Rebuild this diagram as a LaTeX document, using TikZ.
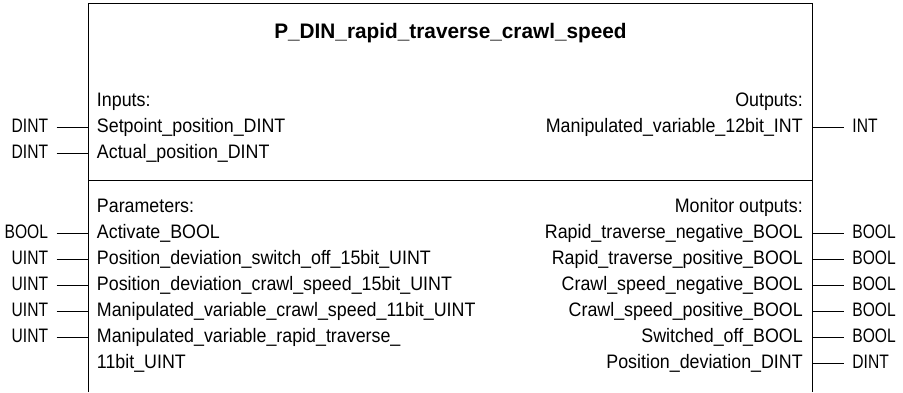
\documentclass[tikz,border=0pt]{standalone}
\usepackage{fontspec}
\setmainfont{Liberation Sans}[FakeStretch=0.915]
\newfontfamily\titlefont{Liberation Sans}[FakeStretch=0.99]
\newfontfamily\typefont{Liberation Sans}[FakeStretch=0.8]
\usetikzlibrary{positioning}

\begin{document}
\begin{tikzpicture}[
                  x = 1pt,
                  y = -1pt,
         line width = 0.9pt,
  every node/.style = {inner ysep=0pt, text height=15pt, text depth=4pt,
                       font=\fontsize{19.5}{22}\selectfont},
      inport/.style = {anchor=west, inner xsep=8.5pt},
     outport/.style = {anchor=east, inner xsep=9.5pt},
      intype/.style = {anchor=east, inner xsep=8pt, font=\typefont\fontsize{19.5}{22}\selectfont},
     outtype/.style = {anchor=west, inner xsep=8pt, font=\typefont\fontsize{19.5}{22}\selectfont},
       title/.style = {anchor=base, inner sep=0pt, text height={}, text depth={},
                       font=\titlefont\bfseries\fontsize{21}{24}\selectfont},
                   ]
\useasboundingbox (0,0) rectangle (903,392);
% box, open at the bottom
\coordinate (nw) at (88,3.5);
\coordinate (ne) at (812.7,3.5);
\coordinate (sw) at (88,392);
\coordinate (se) at (812.7,392);
\coordinate (dw) at (88,180);
\coordinate (de) at (812.7,180);
\draw (sw) -- (nw) -- (ne) -- (se);
\draw (dw) -- (de);

\node[title] (name) at (450.5,38.3) {P\_DIN\_rapid\_traverse\_crawl\_speed};

% inputs / outputs
\node[inport]  (inhead)  at (88,101) {Inputs:};
\node[inport]  (in1)     at (88,127) {Setpoint\_position\_DINT};
\node[inport]  (in2)     at (88,153) {Actual\_position\_DINT};
\node[outport] (outhead) at (812.7,101) {Outputs:};
\node[outport] (out1)    at (812.7,127) {Manipulated\_variable\_12bit\_INT};

\node[intype]  (tin1)  at (56.5,127) {DINT};
\node[intype]  (tin2)  at (56.5,153) {DINT};
\node[outtype] (tout1) at (844,127) {INT};

\draw (tin1) -- (in1);
\draw (tin2) -- (in2);
\draw (out1) -- (tout1);

% parameters / monitor outputs
\node[inport]  (parhead) at (88,207) {Parameters:};
\node[inport]  (par1)    at (88,233) {Activate\_BOOL};
\node[inport]  (par2)    at (88,259) {Position\_deviation\_switch\_off\_15bit\_UINT};
\node[inport]  (par3)    at (88,285) {Position\_deviation\_crawl\_speed\_15bit\_UINT};
\node[inport]  (par4)    at (88,311) {Manipulated\_variable\_crawl\_speed\_11bit\_UINT};
\node[inport]  (par5)    at (88,337) {Manipulated\_variable\_rapid\_traverse\_};
\node[inport]  (par5b)   at (88,363) {11bit\_UINT};

\node[outport] (monhead) at (812.7,207) {Monitor outputs:};
\node[outport] (mon1)    at (812.7,233) {Rapid\_traverse\_negative\_BOOL};
\node[outport] (mon2)    at (812.7,259) {Rapid\_traverse\_positive\_BOOL};
\node[outport] (mon3)    at (812.7,285) {Crawl\_speed\_negative\_BOOL};
\node[outport] (mon4)    at (812.7,311) {Crawl\_speed\_positive\_BOOL};
\node[outport] (mon5)    at (812.7,337) {Switched\_off\_BOOL};
\node[outport] (mon6)    at (812.7,363) {Position\_deviation\_DINT};

\node[intype]  (tpar1) at (56.5,233) {BOOL};
\node[intype]  (tpar2) at (56.5,259) {UINT};
\node[intype]  (tpar3) at (56.5,285) {UINT};
\node[intype]  (tpar4) at (56.5,311) {UINT};
\node[intype]  (tpar5) at (56.5,337) {UINT};

\node[outtype] (tmon1) at (844,233) {BOOL};
\node[outtype] (tmon2) at (844,259) {BOOL};
\node[outtype] (tmon3) at (844,285) {BOOL};
\node[outtype] (tmon4) at (844,311) {BOOL};
\node[outtype] (tmon5) at (844,337) {BOOL};
\node[outtype] (tmon6) at (844,363) {DINT};

\draw (tpar1) -- (par1);
\draw (tpar2) -- (par2);
\draw (tpar3) -- (par3);
\draw (tpar4) -- (par4);
\draw (tpar5) -- (par5);
\draw (mon1) -- (tmon1);
\draw (mon2) -- (tmon2);
\draw (mon3) -- (tmon3);
\draw (mon4) -- (tmon4);
\draw (mon5) -- (tmon5);
\draw (mon6) -- (tmon6);
\end{tikzpicture}
\end{document}
